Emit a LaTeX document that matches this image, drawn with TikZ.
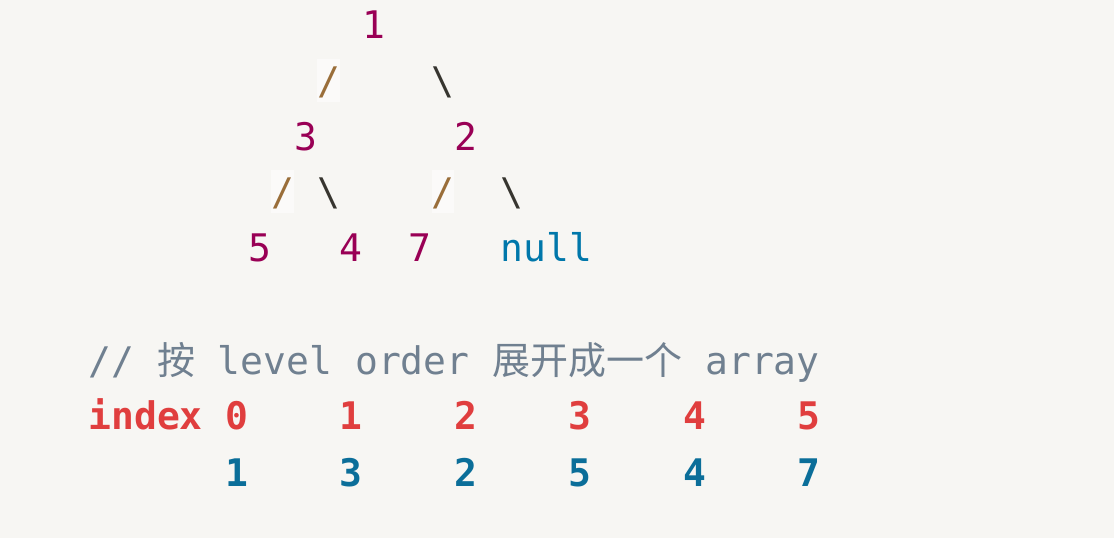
\documentclass[tikz,border=0pt]{standalone}
\usepackage{fontspec}
\setmonofont{DejaVu Sans Mono}
\newfontfamily\cjk{Noto Sans CJK SC}
\usetikzlibrary{positioning}
\definecolor{fondo}{HTML}{F7F6F3}
\definecolor{cnumero}{HTML}{990055}
\definecolor{coperador}{HTML}{9A6E3A}
\definecolor{copfondo}{HTML}{FBFAF9}
\definecolor{ctexto}{HTML}{37352F}
\definecolor{cnulo}{HTML}{0077AA}
\definecolor{ccomentario}{HTML}{708090}
\definecolor{crojo}{HTML}{E03E3E}
\definecolor{cazul}{HTML}{0B6E99}

\begin{document}
\begin{tikzpicture}[
  x=0.5pt, y=-0.5pt,
  font=\ttfamily\fontsize{19pt}{22pt}\selectfont,
  ficha/.style={anchor=base, inner sep=0pt},
  numero/.style={ficha, text=cnumero},
  operador/.style={ficha, text=coperador, fill=copfondo,
                   text height=17.5pt, text depth=4pt, minimum width=11.45pt},
  barra/.style={ficha, text=ctexto},
  nulo/.style={ficha, anchor=base west, text=cnulo},
  comentario/.style={ficha, anchor=base west, text=ccomentario},
  indice/.style={ficha, text=crojo, font=\ttfamily\bfseries\fontsize{19pt}{22pt}\selectfont},
  valor/.style={ficha, text=cazul, font=\ttfamily\bfseries\fontsize{19pt}{22pt}\selectfont},
]
% --- Fondo del bloque de codigo --------------------------------------------
\fill[fondo] (0,0) rectangle (1114,538);
% --- Arbol -------------------------------------------------------------------
\node[numero] (raiz) at (374.25,38) {1};
\node[operador] (op1) at (328.45,94) {/};
\node[barra] (ba1) at (442.95,94) {\textbackslash};
\node[numero] (n3) at (305.55,150) {3};
\node[numero] (n2) at (465.85,150) {2};
\node[operador] (op2) at (282.65,205) {/};
\node[barra] (ba2) at (328.45,205) {\textbackslash};
\node[operador] (op3) at (442.95,205) {/};
\node[barra] (ba3) at (511.65,205) {\textbackslash};
\node[numero] (n5) at (259.75,261) {5};
\node[numero] (n4) at (351.35,261) {4};
\node[numero] (n7) at (420.05,261) {7};
\node[nulo] (nulo) at (500.2,261) {null};
% --- Array por niveles -------------------------------------------------------
\node[comentario] (coment) at (88,374)
  {// {\cjk 按} level order {\cjk 展开成一个} array};
\node[indice, anchor=base west] (etiqueta) at (88,429) {index};
\foreach \i/\v in {0/1, 1/3, 2/2, 3/5, 4/4, 5/7} {
  \node[indice] (i\i) at ({236.85+114.5*\i},429) {\i};
  \node[valor] (v\i) at ({236.85+114.5*\i},486) {\v};
}
\end{tikzpicture}
\end{document}
